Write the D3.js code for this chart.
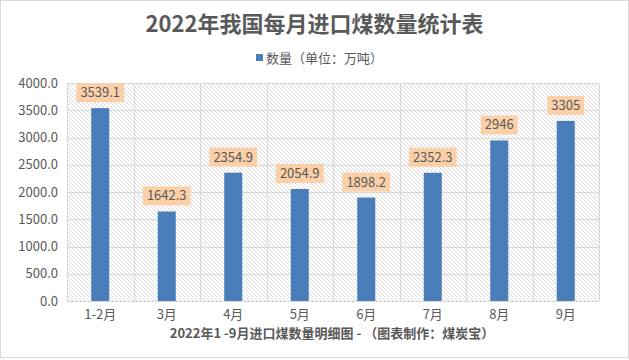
<!DOCTYPE html>
<html><head><meta charset="utf-8">
<script src="https://cdn.jsdelivr.net/npm/d3@7/dist/d3.min.js"></script>
<style>body{margin:0;background:#fff}svg{display:block}</style>
</head><body>
<script>
const categories = ["1-2月","3月","4月","5月","6月","7月","8月","9月"];
const values = [3539.1,1642.3,2354.9,2054.9,1898.2,2352.3,2946,3305];
const valueLabels = ["3539.1","1642.3","2354.9","2054.9","1898.2","2352.3","2946","3305"];
const yTicks = [0,500,1000,1500,2000,2500,3000,3500,4000];
const title = "2022年我国每月进口煤数量统计表";
const legendLabel = "数量（单位：万吨）";
const xTitle = "2022年1 -9月进口煤数量明细图 - （图表制作：煤炭宝）";

const W=629,H=360;
const font = "'Noto Sans CJK SC','Microsoft YaHei',sans-serif";
const txt = "#595959";
const svg = d3.select("body").append("svg").attr("width",W).attr("height",H);
svg.append("rect").attr("x",0.5).attr("y",0.5).attr("width",W-1).attr("height",H-3).attr("fill","#fff").attr("stroke","#d9d9d9");

const defs = svg.append("defs");
const pat = defs.append("pattern").attr("id","hatch").attr("patternUnits","userSpaceOnUse")
  .attr("width",4).attr("height",4);
pat.append("rect").attr("width",4).attr("height",4).attr("fill","#fff");
pat.append("path").attr("d","M-1,-1 L5,5 M-1,3 L1,5 M3,-1 L5,1").attr("stroke","#d0d0d0").attr("stroke-width",0.8);

const m={l:67,r:599,t:83,b:301};
const x = d3.scaleBand().domain(categories).range([m.l,m.r]);
const y = d3.scaleLinear().domain([0,4000]).range([m.b,m.t]);

svg.append("rect").attr("x",m.l).attr("y",m.t).attr("width",m.r-m.l).attr("height",m.b-m.t).attr("fill","url(#hatch)");

// gridlines
svg.append("g").selectAll("line").data(yTicks).join("line")
  .attr("x1",m.l).attr("x2",m.r).attr("y1",d=>Math.round(y(d))+0.5).attr("y2",d=>Math.round(y(d))+0.5)
  .attr("stroke","#d9d9d9");
const bounds = categories.map(c=>x(c)).concat([m.r]);
svg.append("g").selectAll("line").data(bounds).join("line")
  .attr("x1",d=>Math.round(d)+0.5).attr("x2",d=>Math.round(d)+0.5).attr("y1",m.t).attr("y2",m.b)
  .attr("stroke","#d9d9d9");

// y axis
const ya = svg.append("g").attr("transform",`translate(${m.l},0)`).call(d3.axisLeft(y).tickValues(yTicks).tickFormat(d3.format(".1f")).tickSize(0).tickPadding(9));
ya.select(".domain").remove();
ya.selectAll("text").attr("font-family",font).attr("font-size",13).attr("fill",txt);

// x axis
const xa = svg.append("g").attr("transform",`translate(0,${m.b})`).call(d3.axisBottom(x).tickSize(0).tickPadding(9));
xa.select(".domain").attr("stroke","#d9d9d9");
xa.selectAll("text").attr("font-family",font).attr("font-size",13).attr("fill",txt);

// bars
const bw=18;
svg.append("g").selectAll("rect").data(values).join("rect")
  .attr("x",(d,i)=>x(categories[i])+x.bandwidth()/2-bw/2)
  .attr("y",d=>y(d)).attr("width",bw).attr("height",d=>y(0)-y(d))
  .attr("fill","#4a7ebb");

// labels
const lg = svg.append("g");
values.forEach((v,i)=>{
  const cx = x(categories[i])+x.bandwidth()/2;
  const g = lg.append("g");
  const t = g.append("text").attr("x",cx).attr("y",y(v)-11).attr("text-anchor","middle")
    .attr("font-family",font).attr("font-size",13).attr("fill",txt).text(valueLabels[i]);
  const bb = t.node().getBBox();
  g.insert("rect","text").attr("x",bb.x-4).attr("y",y(v)-25).attr("width",bb.width+8).attr("height",19).attr("fill","#fbd0a8");
});

svg.append("text").attr("x",W/2).attr("y",32).attr("text-anchor","middle").attr("font-family",font)
  .attr("font-size",22).attr("font-weight","bold").attr("fill",txt).text(title);

const leg = svg.append("g");
const lt = leg.append("text").attr("x",266).attr("y",63).attr("font-family",font).attr("font-size",13).attr("fill",txt).text(legendLabel);
leg.append("rect").attr("x",256).attr("y",54).attr("width",7).attr("height",7).attr("fill","#4a7ebb");

svg.append("text").attr("x",332).attr("y",338).attr("text-anchor","middle").attr("font-family",font)
  .attr("font-size",13).attr("font-weight","bold").attr("fill",txt).text(xTitle);
</script>
</body></html>
